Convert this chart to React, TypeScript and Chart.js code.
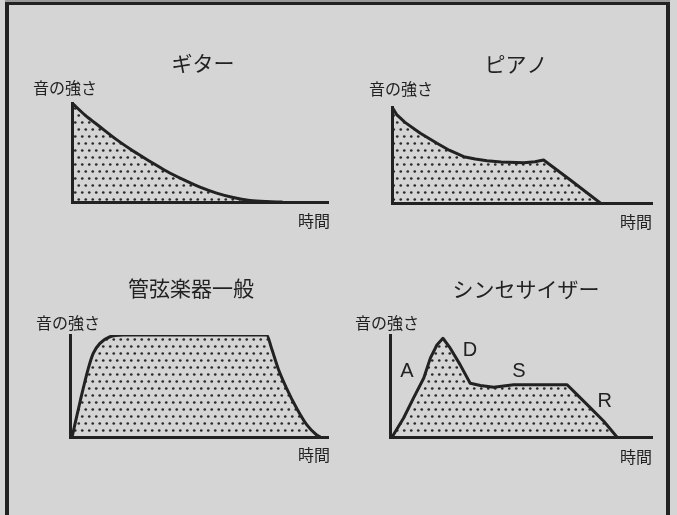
import React, { useEffect, useRef } from "react";
import { Chart, registerables } from "chart.js";
Chart.register(...registerables);

// ---- data (time 0-100, intensity 0-100) ----
const guitarTime = [0, 5, 10.9, 17.4, 23.9, 30.5, 37, 43.5, 50, 56.5, 63, 69.5, 76, 82];
const guitarLevel = [100, 88, 76, 63, 51.5, 41, 31, 22.5, 15, 9, 4.5, 1.6, 0.4, 0];

const pianoTime = [0, 1.9, 5, 10.9, 17.3, 22, 27.6, 32, 36.5, 42, 50.7, 55, 58.3, 68.6, 80.1];
const pianoLevel = [100, 91.7, 84, 72.6, 62.2, 55, 48.2, 45.8, 44.1, 42.8, 42, 43, 44.8, 24, 0];

const windTime = [0.8, 3.9, 7.1, 9.0, 11.6, 15.5, 20.7, 76.2, 78.2, 80.7, 84, 87.9, 91.8, 95.6, 97];
const windLevel = [0, 34.6, 67.3, 82, 91.8, 98.3, 100, 100, 86.3, 67, 47.5, 27.9, 11.8, 2, 0];

const synthTime = [0.8, 5.2, 9.0, 12.9, 15.4, 17.9, 20.2, 23.0, 26.8, 30.6, 34.5, 39.6, 47.2, 56.1, 67.6, 71.4, 76.5, 81.6, 86.6];
const synthLevel = [0, 18.6, 38.3, 57.8, 77.3, 90.2, 96.8, 87.1, 70.7, 52.7, 50.5, 48.8, 51.2, 51.2, 51.2, 41.5, 28.5, 15.4, 0];

const titles = ["ギター", "ピアノ", "管弦楽器一般", "シンセサイザー"];
const yLabel = "音の強さ";
const xLabel = "時間";
const adsrLabels = ["A", "D", "S", "R"];
const adsrTime = [6.5, 30.5, 49.2, 82];
const adsrLevel = [64, 85, 64, 34.6];

const W = 677;
const H = 515;
const INK = "#222222";
const BG = "#d5d5d5";

function makePattern(): CanvasPattern | string {
  const t = document.createElement("canvas");
  t.width = 7;
  t.height = 14;
  const c = t.getContext("2d");
  if (!c) return "rgba(0,0,0,0.2)";
  c.fillStyle = "#2a2a2a";
  c.beginPath();
  c.arc(1.75, 3.5, 1.35, 0, Math.PI * 2);
  c.fill();
  c.beginPath();
  c.arc(5.25, 10.5, 1.35, 0, Math.PI * 2);
  c.fill();
  const p = c.createPattern(t, "repeat");
  return p || "rgba(0,0,0,0.2)";
}

const textPlugin = {
  id: "panelText",
  afterDraw(chart: any, _args: any, opts: any) {
    const { ctx, chartArea } = chart;
    const a = chartArea;
    ctx.save();
    ctx.fillStyle = INK;
    ctx.textBaseline = "middle";
    ctx.font = '21px "Noto Sans CJK JP"';
    ctx.textAlign = "center";
    ctx.fillText(opts.title, (a.left + a.right) / 2 + opts.t[0], a.top + opts.t[1]);
    ctx.font = '16px "Noto Sans CJK JP"';
    ctx.textAlign = "left";
    ctx.fillText(yLabel, a.left + opts.yl[0], a.top + opts.yl[1]);
    ctx.textAlign = "right";
    ctx.fillText(xLabel, a.right + opts.xl[0], a.bottom + opts.xl[1]);
    if (opts.marks) {
      ctx.font = '20px "Liberation Sans"';
      ctx.textAlign = "center";
      const xs = chart.scales.x;
      const ys = chart.scales.y;
      opts.marks.labels.forEach((lab: string, i: number) => {
        ctx.fillText(lab, xs.getPixelForValue(opts.marks.x[i]), ys.getPixelForValue(opts.marks.y[i]));
      });
    }
    ctx.restore();
  },
};

type Panel = {
  title: string;
  xs: number[];
  ys: number[];
  area: [number, number, number, number];
  t: [number, number];
  yl: [number, number];
  xl: [number, number];
  mono: boolean;
  marks?: { labels: string[]; x: number[]; y: number[] };
};

const panels: Panel[] = [
  { title: titles[0], xs: guitarTime, ys: guitarLevel, area: [72, 103, 328, 202], t: [3, -40], yl: [-39, -15], xl: [2, 19], mono: true },
  { title: titles[1], xs: pianoTime, ys: pianoLevel, area: [392, 107, 652, 203], t: [-6, -43], yl: [-23, -18], xl: [0, 19], mono: false },
  { title: titles[2], xs: windTime, ys: windLevel, area: [70, 335, 328, 437], t: [-8, -47], yl: [-34, -12], xl: [2, 18], mono: true },
  {
    title: titles[3], xs: synthTime, ys: synthLevel, area: [390, 335, 652, 437], t: [5, -46], yl: [-35, -12], xl: [0, 20], mono: false,
    marks: { labels: adsrLabels, x: adsrTime, y: adsrLevel },
  },
];

function PanelChart({ p }: { p: Panel }) {
  const ref = useRef<HTMLCanvasElement | null>(null);
  useEffect(() => {
    if (!ref.current) return;
    const pattern = makePattern();
    const [L, T, R, B] = p.area;
    const chart = new Chart(ref.current, {
      type: "line",
      data: {
        datasets: [
          {
            data: p.xs.map((x, i) => ({ x, y: p.ys[i] })),
            borderColor: INK,
            borderWidth: 3,
            backgroundColor: pattern as any,
            fill: "origin",
            pointRadius: 0,
            tension: 0,
            cubicInterpolationMode: p.mono ? "monotone" : "default",
            borderJoinStyle: "round",
            borderCapStyle: "round",
          },
        ],
      },
      options: {
        responsive: false,
        animation: false,
        events: [],
        layout: { padding: { left: L, top: T, right: W - R, bottom: H - B } },
        plugins: {
          legend: { display: false },
          tooltip: { enabled: false },
          title: { display: false },
          panelText: { title: p.title, t: p.t, yl: p.yl, xl: p.xl, marks: p.marks },
        } as any,
        scales: {
          x: {
            type: "linear",
            min: 0,
            max: 100,
            grid: { display: false, drawTicks: false },
            ticks: { display: false },
            border: { display: true, color: INK, width: 3, z: 1 },
          },
          y: {
            type: "linear",
            min: 0,
            max: 100,
            grid: { display: false, drawTicks: false },
            ticks: { display: false },
            border: { display: true, color: INK, width: 3, z: 1 },
          },
        },
      },
      plugins: [textPlugin],
    });
    return () => chart.destroy();
  }, [p]);
  return (
    <canvas
      ref={ref}
      width={W}
      height={H}
      style={{ position: "absolute", left: 0, top: 0, width: W, height: H }}
    />
  );
}

export default function App() {
  return (
    <div
      style={{
        position: "fixed",
        left: 0,
        top: 0,
        width: W,
        height: H,
        background: BG,
        overflow: "hidden",
      }}
    >
      <div style={{ position: "absolute", left: 5, top: 0, width: 665, height: 2, background: "#9a9a9a" }} />
      <div
        style={{
          position: "absolute",
          left: 5,
          top: 2,
          width: 665,
          height: 600,
          boxSizing: "border-box",
          borderLeft: `4px solid ${INK}`,
          borderTop: `3px solid ${INK}`,
          borderRight: `4px solid ${INK}`,
        }}
      />
      {panels.map((p, i) => (
        <PanelChart key={i} p={p} />
      ))}
    </div>
  );
}
